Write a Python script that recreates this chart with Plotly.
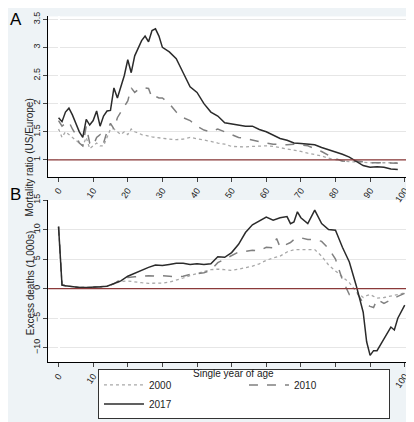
import plotly.graph_objects as go

# Panel A: mortality ratio (US/Europe)
ages_a = list(range(0, 31)) + list(range(32, 100, 2))
ratio_2017 = [1.75, 1.68, 1.85, 1.92, 1.8, 1.65, 1.5, 1.4, 1.72, 1.62, 1.7, 1.87, 1.6, 1.78, 1.87, 1.88,
              2.28, 2.1, 2.3, 2.5, 2.78, 2.55, 2.85, 3.0, 3.12, 3.2, 3.1, 3.3, 3.33, 3.2, 3.0,
              2.92, 2.8, 2.55, 2.3, 2.2, 2.0, 1.85, 1.78, 1.66, 1.64, 1.63, 1.6, 1.6, 1.54, 1.5, 1.44,
              1.38, 1.35, 1.3, 1.29, 1.28, 1.27, 1.22, 1.18, 1.15, 1.1, 1.05, 0.98, 0.9, 0.87, 0.88,
              0.87, 0.84, 0.83]
ratio_2010 = [1.7, 1.6, 1.65, 1.68, 1.55, 1.45, 1.3, 1.25, 1.6, 1.3, 1.25, 1.4, 1.45, 1.3, 1.5, 1.65,
              1.55, 1.75, 1.85, 1.95, 2.05, 2.28, 2.2, 2.25, 2.28, 2.28, 2.27, 2.1, 2.13, 2.1, 2.1,
              2.0, 1.85, 1.75, 1.7, 1.6, 1.53, 1.5, 1.55, 1.5, 1.45, 1.4, 1.38, 1.35, 1.32, 1.3, 1.28,
              1.27, 1.27, 1.28, 1.27, 1.25, 1.2, 1.15, 1.08, 1.02, 0.98, 0.97, 0.98, 0.96, 0.95, 0.95,
              0.95, 0.94, 0.94]
ratio_2000 = [1.55, 1.4, 1.5, 1.45, 1.4, 1.35, 1.3, 1.25, 1.4, 1.2, 1.25, 1.3, 1.25, 1.25, 1.4, 1.55,
              1.55, 1.5, 1.45, 1.5, 1.45, 1.55, 1.5, 1.48, 1.45, 1.44, 1.42, 1.41, 1.4, 1.39, 1.38,
              1.37, 1.36, 1.37, 1.4, 1.38, 1.35, 1.33, 1.3, 1.28, 1.24, 1.23, 1.23, 1.24, 1.25, 1.25, 1.24,
              1.22, 1.2, 1.18, 1.15, 1.12, 1.1, 1.07, 1.03, 1.0, 0.98, 0.97, 0.96, 0.95, 0.95, 0.95,
              0.95, 0.95, 0.95]

# Panel B: excess deaths (1,000s)
ages_b = [0, 1, 2, 4, 6, 8, 10, 12, 14, 16, 18, 20, 22, 24, 26, 28, 30, 32, 34, 36, 38, 40, 42, 44, 46,
          48, 50, 52, 54, 56, 58, 60, 62, 63, 64, 66, 67, 68, 69, 70, 72, 74, 76, 78, 80, 82, 84, 86,
          88, 89, 90, 91, 92, 94, 95, 96, 97, 98, 100]
excess_2017 = [10.5, 0.6, 0.5, 0.3, 0.2, 0.2, 0.2, 0.3, 0.4, 0.8, 1.3, 2.1, 2.6, 3.2, 3.6, 4.0, 3.9, 4.1,
               4.3, 4.3, 4.1, 4.2, 4.1, 4.2, 5.4, 5.3, 6.1, 7.5, 9.5, 10.8, 11.5, 12.1, 11.6, 11.8, 12.0,
               12.2, 11.0, 11.3, 13.0, 12.0, 11.0, 13.3, 11.0, 10.0, 9.9, 7.0, 4.5, 0.5, -4.0, -9.0, -11.3,
               -10.5, -10.5, -8.5, -7.5, -6.5, -7.0, -5.0, -2.8]
excess_2010 = [10.5, 0.6, 0.5, 0.3, 0.2, 0.2, 0.2, 0.3, 0.4, 0.8, 1.6, 1.9, 2.0, 2.1, 2.2, 2.1, 2.2, 2.1,
               2.0, 2.1, 2.4, 2.5, 2.7, 3.1, 4.4, 5.0, 5.6, 6.2, 6.3, 6.5, 6.4, 7.0, 6.9, 8.5, 7.0,
               7.5, 7.8, 8.3, 8.5, 8.6, 8.3, 8.3, 8.0, 6.8, 5.0, 1.5, -1.0, -0.5, -2.5, -2.8, -3.0,
               -3.2, -1.8, -2.5, -2.2, -1.8, -1.6, -1.3, -0.8]
excess_2000 = [10.5, 0.6, 0.5, 0.3, 0.2, 0.2, 0.2, 0.3, 0.4, 0.8, 1.2, 1.3, 1.1, 1.0, 0.9, 0.9, 0.95, 1.1,
               1.4, 1.8, 2.2, 2.6, 2.9, 3.2, 3.3, 3.2, 3.1, 3.3, 3.5, 3.8, 4.2, 4.8, 5.2, 5.3, 5.5,
               6.2, 6.4, 6.6, 6.6, 6.6, 6.7, 6.6, 5.5, 4.0, 3.0, 2.0, 1.0, -0.5, -1.5, -1.2, -1.0,
               -1.3, -1.6, -1.5, -1.4, -1.2, -1.1, -1.0, -0.7]

ticks_x = list(range(0, 101, 10))
years = ["2000", "2010", "2017"]
styles = [dict(color="#a8a8a8", dash="dot", width=1.3),
          dict(color="#808080", dash="dash", width=1.5),
          dict(color="#2b2b2b", dash="solid", width=1.5)]

fig = go.Figure()
for yr, st, ya, yb in zip(years, styles, [ratio_2000, ratio_2010, ratio_2017],
                          [excess_2000, excess_2010, excess_2017]):
    fig.add_trace(go.Scatter(x=ages_a, y=ya, mode="lines", line=st, name=yr,
                             xaxis="x", yaxis="y"))
    fig.add_trace(go.Scatter(x=ages_b, y=yb, mode="lines", line=st, name=yr,
                             showlegend=False, xaxis="x2", yaxis="y2"))

red = "#8b3a3a"
fig.add_shape(type="line", xref="x domain", yref="y", x0=0, x1=1, y0=1, y1=1,
              line=dict(color=red, width=1.3))
fig.add_shape(type="line", xref="x2 domain", yref="y2", x0=0, x1=1, y0=0, y1=0,
              line=dict(color=red, width=1.3))

xcommon = dict(range=[-3, 102], tickvals=ticks_x, tickangle=-55, showgrid=False,
               showline=True, linecolor="black", ticks="outside", ticklen=4, automargin=False,
               tickfont=dict(size=9, color="#222"))
ycommon = dict(showgrid=True, gridcolor="#e6e6e6", showline=True, linecolor="black",
               ticks="outside", ticklen=4, tickangle=-90, zeroline=False, automargin=False,
               tickfont=dict(size=9, color="#222"))

fig.update_layout(
    width=414, height=422,
    margin=dict(l=0, r=0, t=0, b=0, autoexpand=False),
    paper_bgcolor="#eef3f6", plot_bgcolor="white",
    font=dict(family="Liberation Sans, Arial", color="#222"),
    xaxis=dict(domain=[0.097, 0.975], anchor="y", **xcommon),
    yaxis=dict(domain=[0.60, 0.98], range=[0.7, 3.55],
               tickvals=[1, 1.5, 2, 2.5, 3, 3.5], ticktext=["1", "1.5", "2", "2.5", "3", "3.5"],
               anchor="x", **ycommon),
    xaxis2=dict(domain=[0.097, 0.975], anchor="y2", **xcommon),
    yaxis2=dict(domain=[0.16, 0.545], range=[-12.5, 15], tickvals=[-10, -5, 0, 5, 10, 15],
                ticktext=["−10", "−5", "0", "5", "10", "15"], anchor="x2", **ycommon),
    legend=dict(orientation="h", x=0.57, y=0.025, xanchor="center", yanchor="bottom",
                bgcolor="white", bordercolor="#333", borderwidth=1,
                font=dict(size=10), itemwidth=40, entrywidth=90),
    annotations=[
        dict(text="A", x=0.0, y=1.0, xref="paper", yref="paper", xanchor="left", yanchor="top",
             showarrow=False, font=dict(size=17, color="black")),
        dict(text="B", x=0.0, y=0.585, xref="paper", yref="paper", xanchor="left", yanchor="top",
             showarrow=False, font=dict(size=17, color="black")),
        dict(text="Mortality ratio (US/Europe)", x=0.035, y=0.79, xref="paper", yref="paper",
             textangle=-90, showarrow=False, font=dict(size=10)),
        dict(text="Excess deaths (1,000s)", x=0.035, y=0.35, xref="paper", yref="paper",
             textangle=-90, showarrow=False, font=dict(size=10)),
        dict(text="Single year of age", x=0.545, y=0.115, xref="paper", yref="paper",
             showarrow=False, font=dict(size=10)),
    ],
)

fig.write_html("out.html")
